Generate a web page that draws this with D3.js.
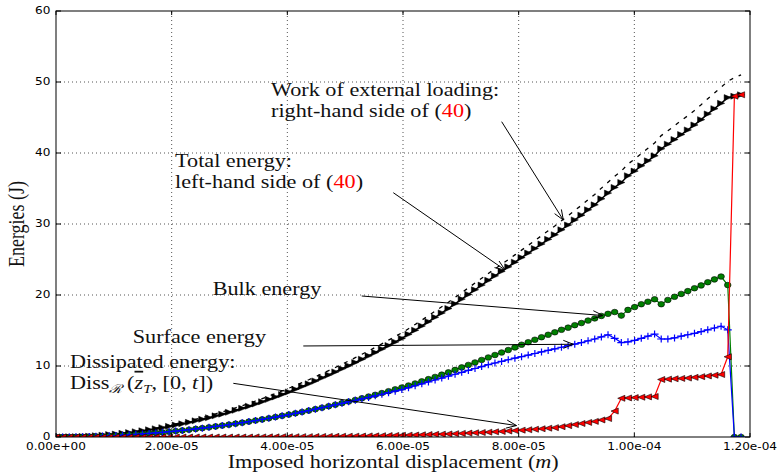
<!DOCTYPE html>
<html>
<head>
<meta charset="utf-8">
<script src="https://cdn.jsdelivr.net/npm/d3@7"></script>
<style>
  body { margin: 0; background: #fff; }
  svg { display: block; }
  .tick-label { font-family: "DejaVu Sans", sans-serif; font-size: 9.8px; fill: #000; }
  .serif { font-family: "Liberation Serif", "Times New Roman", serif; font-size: 18px; fill: #111; }
</style>
</head>
<body>
<div id="chart"></div>
<script>
// imposed horizontal displacement, in 1e-6 m
var displacement = [
  0, 1.15, 2.3, 3.45, 4.6, 5.75, 6.9, 8.05, 9.2, 10.35,
  11.5, 12.65, 13.8, 14.95, 16.1, 17.25, 18.4, 19.55, 20.7, 21.85,
  23, 24.15, 25.3, 26.45, 27.6, 28.75, 29.9, 31.05, 32.2, 33.35,
  34.5, 35.65, 36.8, 37.95, 39.1, 40.25, 41.4, 42.55, 43.7, 44.85,
  46, 47.15, 48.3, 49.45, 50.6, 51.75, 52.9, 54.05, 55.2, 56.35,
  57.5, 58.65, 59.8, 60.95, 62.1, 63.25, 64.4, 65.55, 66.7, 67.85,
  69, 70.15, 71.3, 72.45, 73.6, 74.75, 75.9, 77.05, 78.2, 79.35,
  80.5, 81.65, 82.8, 83.95, 85.1, 86.25, 87.4, 88.55, 89.7, 90.85,
  92, 93.15, 94.3, 95.45, 96.6, 97.75, 98.9, 100.05, 101.2, 102.35,
  103.5, 104.65, 105.8, 106.95, 108.1, 109.25, 110.4, 111.55, 112.7, 113.85,
  115, 116.15, 117.3, 118.45
];

var workExternal = [
  0, 0, 0.02, 0.04, 0.08, 0.12, 0.18, 0.26, 0.34, 0.42,
  0.52, 0.65, 0.78, 0.95, 1.10, 1.26, 1.44, 1.64, 1.84, 2.04,
  2.26, 2.50, 2.73, 2.98, 3.27, 3.52, 3.81, 4.11, 4.40, 4.73,
  5.07, 5.40, 5.75, 6.12, 6.48, 6.87, 7.25, 7.66, 8.06, 8.49,
  8.93, 9.36, 9.79, 10.25, 10.71, 11.18, 11.65, 12.13, 12.62, 13.12,
  13.64, 14.16, 14.67, 15.25, 15.85, 16.46, 17.08, 17.72, 18.35, 18.98,
  19.66, 20.33, 21.00, 21.68, 22.35, 23.03, 23.69, 24.33, 24.98, 25.65,
  26.32, 26.99, 27.67, 28.35, 29.04, 29.73, 30.46, 31.16, 31.92, 32.63,
  33.42, 34.16, 35.05, 35.88, 36.72, 37.46, 38.45, 39.14, 39.93, 40.67,
  41.41, 42.45, 43.14, 43.83, 44.57, 45.25, 46.00, 46.80, 47.65, 48.45,
  49.25, 50.10, 50.60, 51.00
];

var totalEnergy = [
  0, 0, 0.02, 0.04, 0.08, 0.12, 0.18, 0.26, 0.34, 0.42,
  0.52, 0.62, 0.74, 0.88, 1.02, 1.16, 1.32, 1.50, 1.68, 1.86,
  2.06, 2.28, 2.50, 2.72, 2.98, 3.22, 3.48, 3.76, 4.04, 4.34,
  4.65, 4.97, 5.30, 5.64, 5.99, 6.35, 6.72, 7.11, 7.49, 7.90,
  8.33, 8.75, 9.17, 9.61, 10.05, 10.50, 10.96, 11.43, 11.90, 12.39,
  12.89, 13.39, 13.89, 14.46, 15.04, 15.64, 16.25, 16.86, 17.48, 18.10,
  18.76, 19.42, 20.08, 20.74, 21.40, 22.07, 22.70, 23.33, 23.97, 24.62,
  25.28, 25.91, 26.55, 27.19, 27.84, 28.49, 29.19, 29.86, 30.58, 31.25,
  32.00, 32.70, 33.55, 34.35, 35.15, 35.85, 36.80, 37.45, 38.20, 38.90,
  39.60, 40.60, 41.25, 41.90, 42.60, 43.25, 43.95, 44.70, 45.50, 46.25,
  47.00, 47.80, 48.00, 48.20
];

var bulkEnergy = [
  0, 0, 0.01, 0.02, 0.04, 0.06, 0.09, 0.13, 0.17, 0.21,
  0.26, 0.31, 0.37, 0.44, 0.51, 0.58, 0.66, 0.75, 0.84, 0.93,
  1.03, 1.14, 1.25, 1.36, 1.49, 1.61, 1.74, 1.88, 2.02, 2.17,
  2.32, 2.48, 2.64, 2.81, 2.98, 3.16, 3.34, 3.53, 3.72, 3.92,
  4.13, 4.34, 4.55, 4.77, 4.99, 5.22, 5.46, 5.70, 5.94, 6.19,
  6.45, 6.71, 6.97, 7.25, 7.54, 7.84, 8.15, 8.46, 8.78, 9.10,
  9.45, 9.80, 10.15, 10.50, 10.85, 11.20, 11.55, 11.90, 12.25, 12.62,
  13.00, 13.35, 13.70, 14.05, 14.40, 14.75, 15.10, 15.40, 15.75, 16.05,
  16.40, 16.70, 17.05, 17.35, 17.60, 17.10, 17.90, 18.30, 18.70, 19.05,
  19.40, 18.70, 19.30, 19.75, 20.15, 20.55, 20.95, 21.35, 21.80, 22.20,
  22.60, 21.40, 0, 0
];

var surfaceEnergy = [
  0, 0, 0.01, 0.02, 0.04, 0.06, 0.09, 0.13, 0.17, 0.21,
  0.26, 0.31, 0.37, 0.44, 0.51, 0.58, 0.66, 0.75, 0.84, 0.93,
  1.03, 1.14, 1.25, 1.36, 1.49, 1.61, 1.74, 1.88, 2.02, 2.17,
  2.32, 2.48, 2.64, 2.81, 2.98, 3.16, 3.34, 3.53, 3.72, 3.92,
  4.13, 4.33, 4.53, 4.74, 4.95, 5.16, 5.37, 5.58, 5.80, 6.02,
  6.24, 6.46, 6.68, 6.95, 7.22, 7.49, 7.76, 8.03, 8.30, 8.57,
  8.84, 9.11, 9.38, 9.65, 9.92, 10.19, 10.42, 10.65, 10.88, 11.10,
  11.32, 11.54, 11.76, 11.98, 12.20, 12.42, 12.64, 12.86, 13.08, 13.30,
  13.55, 13.80, 14.10, 14.40, 13.90, 13.30, 13.40, 13.60, 13.90, 14.20,
  14.50, 13.80, 13.80, 13.95, 14.20, 14.40, 14.60, 14.85, 15.10, 15.35,
  15.60, 15.10, 0, 0
];

var dissipatedEnergy = [
  0, 0, 0, 0, 0, 0, 0, 0, 0, 0,
  0, 0, 0, 0, 0, 0, 0, 0, 0, 0,
  0, 0, 0, 0, 0, 0, 0, 0, 0, 0,
  0.01, 0.01, 0.02, 0.02, 0.03, 0.03, 0.04, 0.05, 0.05, 0.06,
  0.07, 0.08, 0.09, 0.10, 0.11, 0.12, 0.13, 0.15, 0.16, 0.18,
  0.20, 0.22, 0.24, 0.26, 0.28, 0.31, 0.34, 0.37, 0.40, 0.43,
  0.47, 0.51, 0.55, 0.59, 0.63, 0.68, 0.73, 0.78, 0.84, 0.90,
  0.96, 1.02, 1.09, 1.16, 1.24, 1.32, 1.45, 1.60, 1.75, 1.90,
  2.05, 2.20, 2.40, 2.60, 3.65, 5.45, 5.50, 5.55, 5.60, 5.65,
  5.70, 8.10, 8.15, 8.20, 8.25, 8.30, 8.40, 8.50, 8.60, 8.70,
  8.80, 11.30, 48.00, 48.20
];

var xTicks = [0, 20, 40, 60, 80, 100, 120];
var xTickLabels = ["0.00e+00", "2.00e-05", "4.00e-05", "6.00e-05", "8.00e-05", "1.00e-04", "1.20e-04"];
var yTicks = [0, 10, 20, 30, 40, 50, 60];

// annotations: arrow from text point to data point (displacement in 1e-6 m, energy in J)
var arrowFrom = [[77.06, 44.41], [58.32, 34.41], [52.86, 19.86], [42.76, 12.82], [30.66, 7.56]];
var arrowTo = [[87.72, 30.56], [77.64, 23.52], [94.58, 17.11], [89.45, 13.06], [79.63, 1.61]];

var width = 778, height = 472;
var margin = {top: 11, right: 28, bottom: 35, left: 56};
var SX = 1.234; // the figure is a bit wider than tall, text too

var x = d3.scaleLinear().domain([0, 120]).range([margin.left, width - margin.right]);
var y = d3.scaleLinear().domain([0, 60]).range([height - margin.bottom, margin.top]);

var svg = d3.select("#chart").append("svg")
  .attr("width", width)
  .attr("height", height);

svg.append("defs").append("clipPath").attr("id", "plotclip")
  .append("rect")
  .attr("x", x(0)).attr("y", y(60))
  .attr("width", x(120) - x(0)).attr("height", y(0) - y(60));

////////// grid //////////
var grid = svg.append("g").attr("class", "grid")
  .attr("stroke", "#555").attr("stroke-width", 1).attr("stroke-dasharray", "1,3");

grid.selectAll("line.gx").data(xTicks.slice(1, -1)).enter().append("line")
  .attr("class", "gx")
  .attr("x1", d => x(d)).attr("x2", d => x(d))
  .attr("y1", y(0)).attr("y2", y(60));

grid.selectAll("line.gy").data(yTicks.slice(1, -1)).enter().append("line")
  .attr("class", "gy")
  .attr("x1", x(0)).attr("x2", x(120))
  .attr("y1", d => y(d)).attr("y2", d => y(d));

////////// series //////////
var plot = svg.append("g").attr("clip-path", "url(#plotclip)");

function series(vals) {
  return displacement.map((d, i) => [d, vals[i]]);
}

var line = d3.line().x(d => x(d[0])).y(d => y(d[1]));

// triangles, stretched a bit along x like the rest of the figure
var triRight = "M3.6,0L-3.6,-3L-3.6,3Z";
var triLeft = "M-3.6,0L3.6,-3L3.6,3Z";
var plus = "M-4,0L4,0M0,-3.5L0,3.5";

// total energy
plot.append("path").datum(series(totalEnergy))
  .attr("d", line).attr("fill", "none")
  .attr("stroke", "#000").attr("stroke-width", 1.5);
plot.selectAll("path.tot").data(series(totalEnergy)).enter().append("path")
  .attr("class", "tot")
  .attr("transform", d => "translate(" + x(d[0]) + "," + y(d[1]) + ")")
  .attr("d", triRight).attr("fill", "#000").attr("stroke", "#000").attr("stroke-width", 0.5);

// work of external loading
plot.append("path").datum(series(workExternal))
  .attr("d", line).attr("fill", "none")
  .attr("stroke", "#000").attr("stroke-width", 1.3)
  .attr("stroke-dasharray", "4,6");

// bulk energy
plot.append("path").datum(series(bulkEnergy))
  .attr("d", line).attr("fill", "none")
  .attr("stroke", "#008000").attr("stroke-width", 1.2);
plot.selectAll("ellipse.bulk").data(series(bulkEnergy)).enter().append("ellipse")
  .attr("class", "bulk")
  .attr("cx", d => x(d[0])).attr("cy", d => y(d[1]))
  .attr("rx", 3.3).attr("ry", 2.8)
  .attr("fill", "#008000").attr("stroke", "#000").attr("stroke-width", 0.6);

// surface energy
plot.append("path").datum(series(surfaceEnergy))
  .attr("d", line).attr("fill", "none")
  .attr("stroke", "#0000ff").attr("stroke-width", 1.2);
plot.selectAll("path.surf").data(series(surfaceEnergy)).enter().append("path")
  .attr("class", "surf")
  .attr("transform", d => "translate(" + x(d[0]) + "," + y(d[1]) + ")")
  .attr("d", plus).attr("fill", "none").attr("stroke", "#0000ff").attr("stroke-width", 1.2);

// dissipated energy
plot.append("path").datum(series(dissipatedEnergy))
  .attr("d", line).attr("fill", "none")
  .attr("stroke", "#ff0000").attr("stroke-width", 1.2);
plot.selectAll("path.diss").data(series(dissipatedEnergy)).enter().append("path")
  .attr("class", "diss")
  .attr("transform", d => "translate(" + x(d[0]) + "," + y(d[1]) + ")")
  .attr("d", triLeft).attr("fill", "#ff0000").attr("stroke", "#000").attr("stroke-width", 0.6);

////////// frame and ticks //////////
svg.append("rect")
  .attr("x", x(0)).attr("y", y(60))
  .attr("width", x(120) - x(0)).attr("height", y(0) - y(60))
  .attr("fill", "none").attr("stroke", "#000").attr("stroke-width", 1);

var ticks = svg.append("g").attr("stroke", "#000").attr("stroke-width", 1);
xTicks.forEach(function(t) {
  ticks.append("line").attr("x1", x(t)).attr("x2", x(t)).attr("y1", y(0)).attr("y2", y(0) - 4);
  ticks.append("line").attr("x1", x(t)).attr("x2", x(t)).attr("y1", y(60)).attr("y2", y(60) + 4);
});
yTicks.forEach(function(t) {
  ticks.append("line").attr("x1", x(0)).attr("x2", x(0) + 5).attr("y1", y(t)).attr("y2", y(t));
  ticks.append("line").attr("x1", x(120)).attr("x2", x(120) - 5).attr("y1", y(t)).attr("y2", y(t));
});

// stretched text helper
function stext(px, py, anchor, cls) {
  return svg.append("g")
    .attr("transform", "translate(" + px + "," + py + ") scale(" + SX + ",1)")
    .append("text")
    .attr("class", cls)
    .attr("text-anchor", anchor);
}

xTicks.forEach(function(t, i) {
  stext(x(t), 450, "middle", "tick-label").text(xTickLabels[i]);
});
yTicks.forEach(function(t) {
  stext(x(0) - 5.5, y(t) + 3.3, "end", "tick-label").text(t);
});

////////// axis labels //////////
var xl = stext(227.7, 467.5, "start", "serif");
xl.append("tspan").text("Imposed horizontal displacement (");
xl.append("tspan").attr("font-style", "italic").text("m");
xl.append("tspan").text(")");

svg.append("g")
  .attr("transform", "translate(24," + (margin.top + (height - margin.bottom - margin.top) / 2) + ") scale(" + SX + ",1) rotate(-90)")
  .append("text").attr("class", "serif").attr("text-anchor", "middle")
  .text("Energies (J)");

////////// annotations //////////
function eqLine(t, before) {
  t.append("tspan").text(before + " (");
  t.append("tspan").attr("fill", "#ff0000").text("40");
  t.append("tspan").text(")");
}

stext(x(37.18), y(48.03), "start", "serif").text("Work of external loading:");
eqLine(stext(x(37.18), y(48.03) + 20.7, "start", "serif"), "right-hand side of");

stext(x(20.58), y(38.07), "start", "serif").text("Total energy:");
eqLine(stext(x(20.58), y(38.07) + 21.6, "start", "serif"), "left-hand side of");

stext(x(27.09), y(20.0), "start", "serif").text("Bulk energy");
stext(x(13.26), y(13.28), "start", "serif").text("Surface energy");
stext(x(2.42), y(9.68) - 0.3, "start", "serif").text("Dissipated energy:");

var diss = stext(x(2.42), y(9.68) + 20.3, "start", "serif");
diss.append("tspan").text("Diss");
diss.append("tspan").attr("font-size", "12px").attr("font-style", "italic").attr("dy", 4).text("\u211B");
diss.append("tspan").attr("dy", -4).text("\u2009(");
diss.append("tspan").attr("font-style", "italic").attr("text-decoration", "overline").text("z");
diss.append("tspan").attr("font-size", "12px").attr("font-style", "italic").attr("dy", 4).text("T");
diss.append("tspan").attr("dy", -4).text(", [0, ");
diss.append("tspan").attr("font-style", "italic").text("t");
diss.append("tspan").text("])");

// arrows with open heads
var arrows = svg.append("g").attr("stroke", "#000").attr("stroke-width", 1).attr("fill", "none");
arrowFrom.forEach(function(a, i) {
  var x0 = x(a[0]), y0 = y(a[1]);
  var x1 = x(arrowTo[i][0]), y1 = y(arrowTo[i][1]);
  var ang = Math.atan2(y1 - y0, x1 - x0);
  var hl = 10, hw = 4;
  var bx = x1 - hl * Math.cos(ang), by = y1 - hl * Math.sin(ang);
  var nx = -Math.sin(ang) * hw, ny = Math.cos(ang) * hw;
  arrows.append("line").attr("x1", x0).attr("y1", y0).attr("x2", x1).attr("y2", y1);
  arrows.append("path")
    .attr("d", "M" + (bx + nx) + "," + (by + ny) + "L" + x1 + "," + y1 + "L" + (bx - nx) + "," + (by - ny));
});
</script>
</body>
</html>
